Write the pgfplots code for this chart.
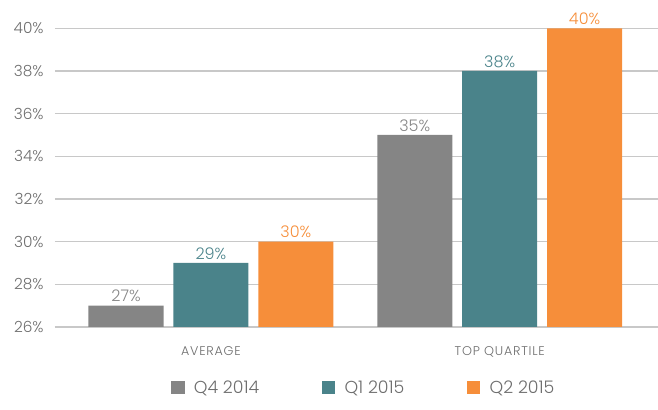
\documentclass[border=0pt]{standalone}
\usepackage{pgfplots}
\pgfplotsset{compat=1.18}
\usepackage{fontspec}
\setmainfont{Poppins}[UprightFont=* Light]
\definecolor{cgray}{HTML}{858585}
\definecolor{cteal}{HTML}{4A838A}
\definecolor{corange}{HTML}{F68E3A}
\definecolor{ctext}{HTML}{6E6E6E}
\definecolor{cgrid}{HTML}{C8C8C8}
\begin{document}
\begin{tikzpicture}[x=1pt,y=1pt]
\def\px{0.75}
\begin{axis}[
  scale only axis,
  width=452pt, height=224pt,
  ymin=26, ymax=40,
  ytick={26,28,...,40},
  xmin=-0.54, xmax=1.547,
  xtick={0,1},
  xticklabels={AVERAGE, TOP QUARTILE},
  ybar, bar width=0.26,
  axis x line*=bottom, axis y line*=left,
  y axis line style={draw=none},
  x axis line style={draw=cgrid, line width=1.3pt},
  major tick length=0pt,
  ymajorgrids, grid style={cgrid, line width=0.9pt},
  /pgf/number format/assume math mode=true,
  yticklabel={\pgfmathprintnumber{\tick}\%},
  yticklabel style={font=\fontsize{11.5}{12}\selectfont, text=ctext, xshift=-5pt},
  xticklabel style={font=\fontsize{9.5}{11}\selectfont\addfontfeatures{LetterSpace=6}, text=ctext, yshift=-11pt},
  nodes near coords={\pgfmathprintnumber{\pgfplotspointmeta}\%},
  nodes near coords style={font=\fontsize{12}{13}\selectfont, /pgf/number format/assume math mode=true, inner sep=2.5pt},
  legend columns=3,
  legend style={draw=none, at={(0.513,-0.16)}, anchor=north,
     font=\fontsize{13}{14}\selectfont, text=ctext,
     /tikz/every odd column/.append style={column sep=5pt},
     /tikz/every even column/.append style={column sep=45pt}},
  legend image code/.code={\fill[#1] (0pt,-5pt) rectangle (10pt,5pt);},
  clip=false,
]
\addplot[fill=cgray, draw=none, bar shift=-0.294, nodes near coords style={text=cgray}] coordinates {(0,27) (1,35)};
\addplot[fill=cteal, draw=none, bar shift=0, nodes near coords style={text=cteal}] coordinates {(0,29) (1,38)};
\addplot[fill=corange, draw=none, bar shift=0.294, nodes near coords style={text=corange}] coordinates {(0,30) (1,40)};
\legend{Q4 2014, Q1 2015, Q2 2015}
\end{axis}
\pgfresetboundingbox
\path (-55*\px, -83*\px) rectangle ++(658*\px, 410*\px);
\end{tikzpicture}
\end{document}
